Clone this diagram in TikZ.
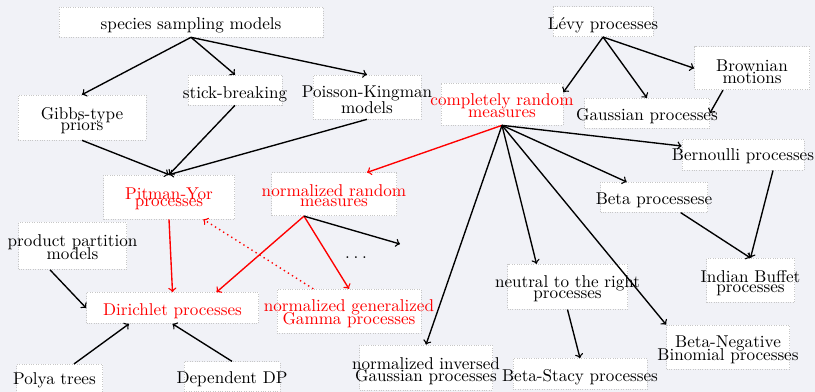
\documentclass[tikz,border=0pt]{standalone}
\usetikzlibrary{calc}
\newdimen\pxu \pxu=0.5848pt
\definecolor{canvas}{RGB}{241,242,247}
% a line of text centred horizontally, baseline #1 units below the node centre, taking no room
\newcommand\lbl[2]{\raisebox{-#1\pxu}[0pt][0pt]{\makebox[0pt]{#2}}}
\begin{document}
\begin{tikzpicture}[x=0.5848pt, y=-0.5848pt,
  box/.style 2 args={draw=black!22, densely dotted, fill=white, inner sep=0pt,
    minimum width=#1*0.5848pt, minimum height=#2*0.5848pt},
  hot/.style={text=red},
  arr/.style={->, thick, black},
  hotarr/.style={->, thick, red}]
\path[use as bounding box, fill=canvas] (0,0) rectangle (815,392);

% nodes
\node[box={264}{30}] (sp) at (191,22) {\lbl{8}{species sampling models}};
\node[box={128}{45}] (gibbs) at (82,117.5) {\lbl{1.8}{Gibbs-type}\lbl{13.2}{priors}};
\node[box={94}{30}] (stick) at (235,90) {\lbl{8.3}{stick-breaking}};
\node[box={108}{44}] (pk) at (367,97) {\lbl{0.7}{Poisson-Kingman}\lbl{16.3}{models}};
\node[box={131}{44}, hot] (py) at (169,197) {\lbl{3}{Pitman-Yor}\lbl{10}{processes}};
\node[box={125}{43}, hot] (nrm) at (334,194.3) {\lbl{2}{normalized random}\lbl{12.7}{measures}};
\node[box={122}{42}, hot] (crm) at (502,104) {\lbl{1.8}{completely random}\lbl{14}{measures}};
\node[box={100}{30}] (levy) at (603,21.7) {\lbl{7.6}{L\'evy processes}};
\node[box={115}{43}] (brown) at (752,68.3) {\lbl{3}{Brownian}\lbl{15.3}{motions}};
\node[box={125}{30}] (gauss) at (647,113.3) {\lbl{7.5}{Gaussian processes}};
\node[box={122}{31}] (bern) at (743,154.7) {\lbl{6.3}{Bernoulli processes}};
\node[box={107}{30}] (beta) at (654,197.3) {\lbl{7}{Beta processese}};
\node[box={88}{44}] (ibp) at (750.5,280.3) {\lbl{2.4}{Indian Buffet}\lbl{12.2}{processes}};
\node[box={120}{45}] (ntr) at (567.5,286.7) {\lbl{0.8}{neutral to the right}\lbl{11.6}{processes}};
\node[box={123}{44}] (bnb) at (728,347) {\lbl{0.4}{Beta-Negative}\lbl{13.7}{Binomial processes}};
\node[box={134}{31}] (bs) at (580,374) {\lbl{7.8}{Beta-Stacy processes}};
\node[box={133}{45}] (nig) at (426,367.5) {\lbl{1.8}{normalized inversed}\lbl{14.2}{Gaussian processes}};
\node[box={108}{47}] (ppm) at (72.5,246) {\lbl{0.3}{product partition}\lbl{14}{models}};
\node[box={172}{31}, hot] (dp) at (172.5,308) {\lbl{7.7}{Dirichlet processes}};
\node[box={144}{44}, hot] (ngg) at (349,311.2) {\lbl{0.5}{normalized generalized}\lbl{13.8}{Gamma processes}};
\node[box={86}{30}] (polya) at (59.5,379.3) {\lbl{5.7}{\hspace{-10\pxu}Polya trees}};
\node[box={96}{30}] (ddp) at (232,376.7) {\lbl{6.6}{Dependent DP}};
\node[inner sep=0pt] (etc) at (356,257) {\lbl{2}{.\kern2.2pt.\kern2.2pt.}};
\coordinate (more) at (400,244);

% species sampling family
\draw[arr] (sp.south) -- (gibbs.north);
\draw[arr] (sp.south) -- (stick.north);
\draw[arr] (sp.south) -- (pk.north);
\draw[arr] (gibbs.south) -- (py.north);
\draw[arr] (stick.south) -- (py.north);
\draw[arr] (pk.south) -- (py.north);

% Levy processes
\draw[arr] (levy.south) -- ($(crm.east)+(0,-11.7)$);
\draw[arr] (levy.south) -- (gauss.north);
\draw[arr] (levy.south) -- (brown.west);
\draw[arr] ($(brown.south)+(-29,0)$) -- (gauss.east);

% completely random measures
\draw[hotarr] (crm.south) -- ($(nrm.north)+(33,0)$);
\draw[arr] (crm.south) -- ($(bern.west)+(0,-8.7)$);
\draw[arr] (crm.south) -- ($(beta.north)+(-27.3,0)$);
\draw[arr] (crm.south) -- ($(ntr.north)+(-31,0)$);
\draw[arr] (crm.south) -- (bnb.north west);
\draw[arr] (crm.south) -- (nig.north);
\draw[arr] ($(bern.south)+(30,0)$) -- (ibp.north);
\draw[arr] ($(beta.south)+(26.7,0)$) -- (ibp.north);
\draw[arr] (ntr.south) -- (bs.north);

% normalized random measures
\draw[hotarr] ($(nrm.south)+(-30,0)$) -- ($(dp.north)+(44,0)$);
\draw[hotarr] ($(nrm.south)+(-30,0)$) -- (ngg.north);
\draw[arr] ($(nrm.south)+(-30,0)$) -- (more);
\draw[hotarr] (py.south) -- (dp.north);
\draw[hotarr, dotted] ($(ngg.north)+(-35.7,0)$) -- ($(py.south)+(34.3,0)$);

% Dirichlet processes
\draw[arr] ($(ppm.south)+(-22.5,0)$) -- (dp.west);
\draw[arr] ($(polya.north)+(14.5,0)$) -- ($(dp.south)+(-43.5,0)$);
\draw[arr] (ddp.north) -- (dp.south);
\end{tikzpicture}
\end{document}
